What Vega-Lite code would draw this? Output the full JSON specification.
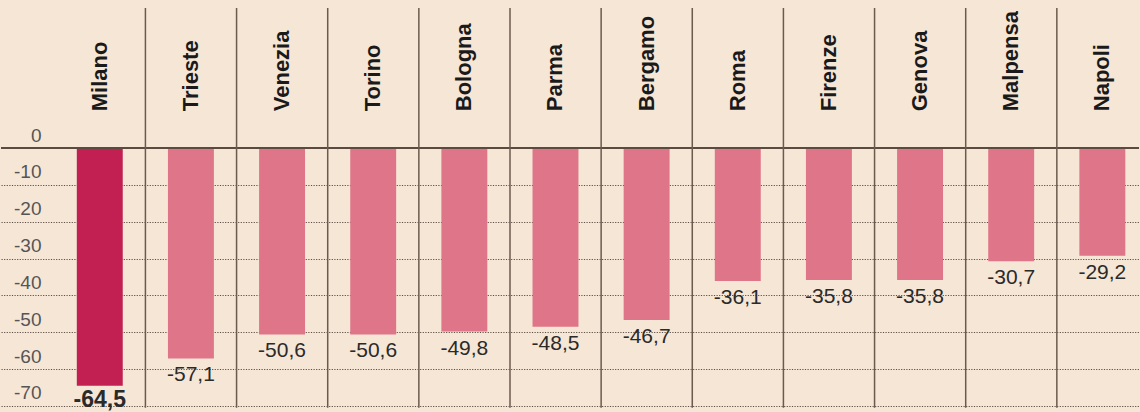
{
  "$schema": "https://vega.github.io/schema/vega-lite/v6.json",
  "width": 1140,
  "height": 412,
  "padding": 0,
  "autosize": {"type": "fit", "contains": "padding"},
  "background": "#f5e6d6",
  "config": {
    "view": {"stroke": null},
    "font": "Liberation Sans",
    "locale": {"number": {"decimal": ",", "thousands": ".", "grouping": [3], "currency": ["€", ""], "minus": "-"}}
  },
  "data": {
    "values": [
      {"city": "Milano", "value": -64.5},
      {"city": "Trieste", "value": -57.1},
      {"city": "Venezia", "value": -50.6},
      {"city": "Torino", "value": -50.6},
      {"city": "Bologna", "value": -49.8},
      {"city": "Parma", "value": -48.5},
      {"city": "Bergamo", "value": -46.7},
      {"city": "Roma", "value": -36.1},
      {"city": "Firenze", "value": -35.8},
      {"city": "Genova", "value": -35.8},
      {"city": "Malpensa", "value": -30.7},
      {"city": "Napoli", "value": -29.2}
    ]
  },
  "layer": [
    {
      "mark": {"type": "bar"},
      "encoding": {
        "x": {"field": "city", "type": "nominal", "sort": null, "axis": null,
              "scale": {"paddingInner": 0.496, "paddingOuter": 0.491, "align": 0.847}},
        "y": {"field": "value", "type": "quantitative",
              "scale": {"domain": [-70.56, 40.2], "nice": false, "zero": false},
              "axis": {"values": [0, -10, -20, -30, -40, -50, -60, -70], "format": "d",
                       "grid": true, "gridDash": [1.2, 1.4], "gridColor": "#5f5048", "gridWidth": 1.2,
                       "domain": false, "ticks": false, "tickSize": 0,
                       "labelAlign": "right", "labelPadding": -40, "labelBaseline": "alphabetic",
                       "labelOffset": -7, "labelFontSize": 19, "labelColor": "#555555", "title": null}},
        "color": {"condition": {"test": "datum.city === 'Milano'", "value": "#c21f52"}, "value": "#df7589"}
      }
    },
    {
      "data": {"values": [{}]},
      "mark": {"type": "rule", "color": "#5a4a40", "strokeWidth": 2},
      "encoding": {"y": {"datum": 0}}
    },
    {
      "transform": [{"filter": "datum.city !== 'Napoli'"}],
      "mark": {"type": "rule", "color": "#6b5a4e", "strokeWidth": 1.5, "xOffset": 45.65},
      "encoding": {
        "x": {"field": "city", "type": "nominal", "sort": null, "bandPosition": 0.5},
        "y": {"datum": 38},
        "y2": {"datum": -70.5}
      }
    },
    {
      "mark": {"type": "text", "angle": 270, "align": "left", "baseline": "middle",
               "fontSize": 22, "fontWeight": "bold", "color": "#1a1a1a"},
      "encoding": {
        "x": {"field": "city", "type": "nominal", "sort": null},
        "y": {"datum": 10},
        "text": {"field": "city"}
      }
    },
    {
      "transform": [{"filter": "datum.city !== 'Milano'"}],
      "mark": {"type": "text", "baseline": "top", "dy": 6, "fontSize": 21, "color": "#2a2a2a"},
      "encoding": {
        "x": {"field": "city", "type": "nominal", "sort": null},
        "y": {"field": "value", "type": "quantitative"},
        "text": {"field": "value", "type": "quantitative", "format": ".1f"}
      }
    },
    {
      "transform": [{"filter": "datum.city === 'Milano'"}],
      "mark": {"type": "text", "baseline": "top", "dy": 3, "fontSize": 23, "fontWeight": "bold", "color": "#2a2a2a"},
      "encoding": {
        "x": {"field": "city", "type": "nominal", "sort": null},
        "y": {"field": "value", "type": "quantitative"},
        "text": {"field": "value", "type": "quantitative", "format": ".1f"}
      }
    }
  ]
}
